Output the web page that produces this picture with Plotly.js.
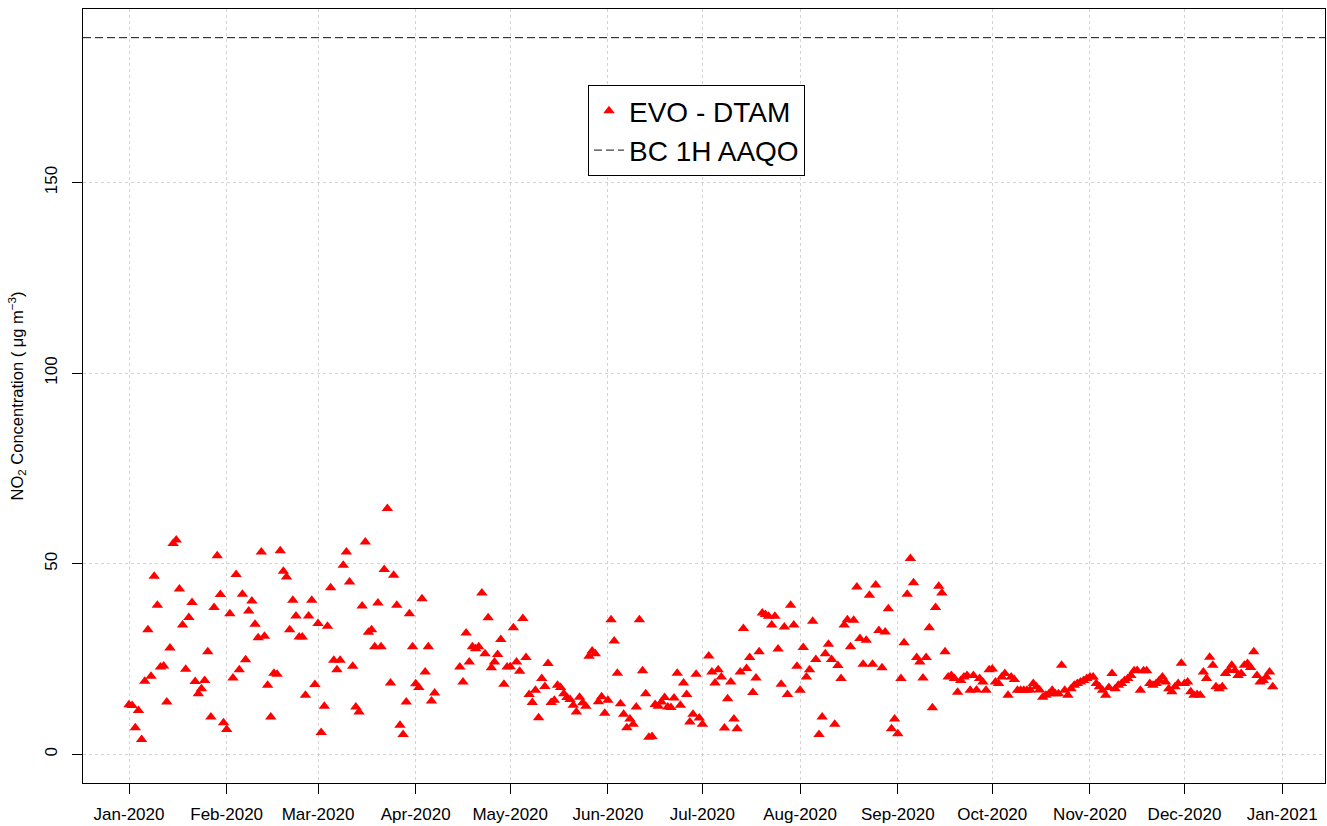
<!DOCTYPE html>
<html><head><meta charset="utf-8">
<script src="https://cdn.plot.ly/plotly-3.0.1.min.js"></script>
<style>html,body{margin:0;padding:0;background:#fff}</style>
</head><body><div id="chart" style="width:1327px;height:826px"></div>
<script>
const year = 2020;
const seriesName = 'EVO - DTAM';
const objectiveName = 'BC 1H AAQO';
const objectiveValue = 188;
const jan = [13.0,12.8,7.0,11.5,3.9,19.2,32.7,20.5,46.7,39.1,22.9,23.2,13.7,27.9,55.3,56.2,43.4,33.9,22.3,35.9,39.8,19.1,15.9,17.2,19.4,26.9,9.8,38.5,52.1,41.9,8.3];
const feb = [6.5,36.9,20.0,47.2,22.2,42.0,24.8,37.6,40.2,34.1,30.6,53.1,31.0,18.1,9.8,21.3,21.0,53.4,48.0,46.5,32.7,40.4,36.3,30.8,30.8,15.5,36.3,40.4,18.3];
const mar = [34.3,5.7,12.6,33.6,43.7,24.7,22.2,24.7,49.6,53.1,45.2,23.1,12.4,11.1,38.9,55.7,32.0,32.7,28.2,39.7,28.2,48.5,64.5,18.7,47.0,39.1,7.6,5.2,13.7,36.9,28.2];
const apr = [18.5,17.5,40.8,21.6,28.2,14.0,16.1,null,null,null,null,null,null,null,22.9,19.0,31.8,24.2,28.2,27.7,28.2,42.3,26.4,35.8,22.7,24.2,26.2,30.1,18.4,22.9];
const may = [23.0,33.2,24.2,21.8,35.6,25.4,15.7,13.6,16.8,9.6,19.9,17.8,23.8,13.6,14.2,18.1,17.5,15.9,14.9,14.4,12.9,11.1,15.0,13.5,12.6,25.7,27.1,26.4,13.8,15.1,10.8];
const jun = [14.2,35.3,29.7,21.3,13.3,10.5,7.0,9.3,7.9,12.4,35.3,21.9,15.9,4.5,4.7,13.1,12.6,13.7,14.9,12.4,12.3,14.8,21.3,12.9,18.7,15.7,8.5,10.5,21.0,9.5];
const jul = [7.9,null,25.8,21.6,18.7,22.2,20.3,6.9,14.6,19.0,9.3,6.7,21.6,33.0,22.5,25.4,16.2,20.0,26.9,37.1,36.7,36.2,33.9,36.2,27.6,18.4,33.4,15.7,39.1,33.9,23.1];
const aug = [16.8,28.0,20.3,22.2,34.9,24.9,5.2,9.8,26.4,28.9,24.9,7.9,23.3,19.9,33.9,35.3,28.2,35.2,43.9,30.4,23.6,29.9,41.7,23.6,44.4,32.5,22.7,32.1,38.2,6.7,9.3];
const sep = [5.4,19.9,29.3,42.0,51.4,45.0,25.4,24.2,20.0,25.4,33.2,12.2,38.5,44.1,42.3,26.9,20.3,20.7,19.9,16.3,19.4,20.3,20.7,16.8,20.7,16.9,19.9,19.0,16.8,22.2];
const oct = [22.4,19.0,18.6,20.3,21.2,15.5,20.3,19.6,16.8,16.8,16.8,16.8,16.9,18.6,17.7,16.9,15.0,15.5,15.9,16.8,15.9,15.9,23.4,16.8,15.5,17.2,18.1,18.6,19.0,19.4,19.9];
const nov = [20.3,20.3,18.6,17.7,16.8,15.5,17.5,21.2,17.2,18.1,18.6,19.4,19.9,20.7,21.9,22.0,16.8,21.9,21.9,18.6,18.1,18.6,19.4,20.3,19.0,17.2,16.4,17.7,18.6,23.9];
const dec = [18.6,19.0,16.4,15.5,15.7,15.5,21.6,19.9,25.5,23.4,17.7,17.2,17.7,21.2,22.0,23.4,22.0,20.7,21.2,23.4,23.8,22.8,26.9,20.7,19.0,19.4,20.3,21.6,17.7];
const yTicks = [0, 50, 100, 150];
const xRange = ['2019-12-17 09:36', '2021-01-14 14:24'];
const yRange = [-7.52, 195.52];

const months = [jan, feb, mar, apr, may, jun, jul, aug, sep, oct, nov, dec];
const dates = [], values = [];
months.forEach((arr, m) => arr.forEach((v, i) => {
  dates.push(year + '-' + String(m + 1).padStart(2, '0') + '-' + String(i + 1).padStart(2, '0'));
  values.push(v);
}));

const font = 'Liberation Sans, Arial, sans-serif';
const traces = [
  {x: dates, y: values, type: 'scatter', mode: 'markers', name: seriesName,
   marker: {symbol: 'triangle-up', size: 10, color: '#ff0000', line: {width: 0}}},
  {x: xRange, y: [objectiveValue, objectiveValue], type: 'scatter', mode: 'lines', name: objectiveName,
   line: {color: '#111', width: 1, dash: '8px,4px'}}
];
const layout = {
  width: 1327, height: 826,
  margin: {l: 83, r: 2, t: 9, b: 43},
  paper_bgcolor: '#fff', plot_bgcolor: '#fff',
  font: {family: font, color: '#000', size: 17},
  showlegend: true,
  legend: {x: 0.4066, y: 0.9018, xanchor: 'left', yanchor: 'top', bgcolor: '#fff',
           bordercolor: '#000', borderwidth: 1, entrywidth: 190, entrywidthmode: 'pixels',
           font: {size: 28, family: font, color: '#000'}},
  xaxis: {type: 'date', range: xRange, dtick: 'M1', tick0: '2020-01-01', tickformat: '%b-%Y',
          showgrid: true, gridcolor: '#d3d3d3', griddash: 'dot', gridwidth: 1,
          showline: true, linecolor: '#000', linewidth: 1, mirror: true,
          ticks: 'outside', ticklen: 10, tickcolor: '#000', ticklabelstandoff: 6,
          tickfont: {size: 17}, zeroline: false, automargin: false},
  yaxis: {range: yRange, tickvals: yTicks, tickangle: -90,
          showgrid: true, gridcolor: '#d3d3d3', griddash: 'dot', gridwidth: 1,
          showline: true, linecolor: '#000', linewidth: 1, mirror: true,
          ticks: 'outside', ticklen: 10, tickcolor: '#000', ticklabelstandoff: 8,
          tickfont: {size: 17}, zeroline: false, automargin: false,
          title: {text: 'NO<sub>2</sub> Concentration ( μg m<sup>−3</sup>)', font: {size: 16.5}, standoff: 14}}
};
Plotly.newPlot('chart', traces, layout, {displayModeBar: false, staticPlot: true});
</script></body></html>
